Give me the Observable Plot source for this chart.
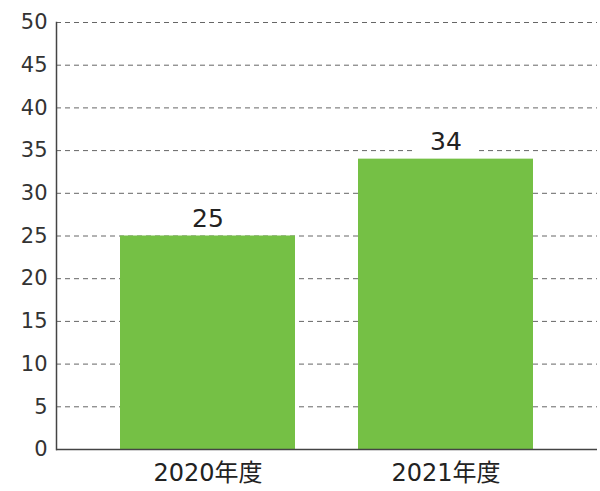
<!DOCTYPE html>
<html><head><meta charset="utf-8">
<script src="https://cdn.jsdelivr.net/npm/d3@7"></script>
<script src="https://cdn.jsdelivr.net/npm/@observablehq/plot@0.6"></script>
<style>body{margin:0;background:#fff;} svg{display:block;}</style>
</head><body>
<div id="chart"></div>
<script>
const categories = ["2020年度", "2021年度"];
const values = [25, 34];
const yTicks = [0, 5, 10, 15, 20, 25, 30, 35, 40, 45, 50];
const data = categories.map((c, i) => ({category: c, value: values[i]}));
const font = "'DejaVu Sans', 'Noto Sans CJK JP', sans-serif";
const chart = Plot.plot({
  width: 600, height: 491,
  marginLeft: 56, marginRight: 3, marginTop: 22, marginBottom: 42,
  style: {fontFamily: font, fontSize: "21px", color: "#333", background: "#fff"},
  x: {domain: categories, padding: 0.265, label: null},
  y: {domain: [0, 50], label: null},
  marks: [
    Plot.gridY(yTicks.filter(d => d > 0), {stroke: "#666", strokeOpacity: 1, strokeDasharray: "5,4", strokeWidth: 1}),
    Plot.barY(data, {x: "category", y: "value", fill: "#75c045"}),
    Plot.barY(data, {x: "category", y1: d => d.value + 0.6, y2: d => d.value + 3.2, fill: "white", insetLeft: 57, insetRight: 57}),
    Plot.text(data, {x: "category", y: "value", text: d => String(d.value), lineAnchor: "bottom", dy: -9, fontSize: 25, fill: "#222"}),
    Plot.ruleY([0], {stroke: "#444", strokeWidth: 1.5}),
    Plot.axisY({ticks: yTicks, tickSize: 0, tickPadding: 9, label: null, fontSize: 21, fill: "#333"}),
    Plot.axisX({tickSize: 0, tickPadding: 14, label: null, fontSize: 24, fill: "#222"}),
    Plot.frame({anchor: "left", stroke: "#444", strokeWidth: 1.5})
  ]
});
document.getElementById("chart").append(chart);
</script>
</body></html>
